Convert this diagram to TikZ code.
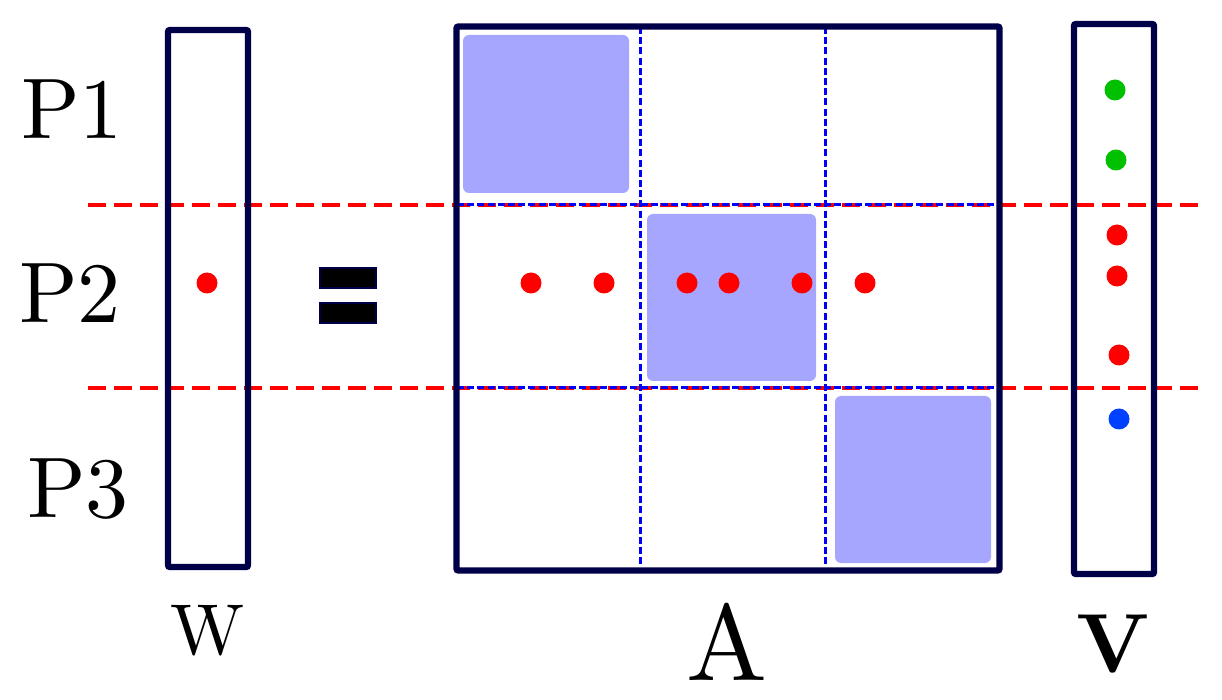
\documentclass[tikz,border=0pt]{standalone}
\usepackage{fontspec}
\setmainfont{lmroman10-regular.otf}[BoldFont=lmroman10-bold.otf]
\usepackage{tikz}
\usetikzlibrary{positioning}
\definecolor{navyline}{RGB}{0,0,72}
\definecolor{blockfill}{RGB}{166,166,255}
\definecolor{dotgreen}{RGB}{0,192,0}
\definecolor{dotblue}{RGB}{0,64,255}
\tikzset{
  vecbox/.style={draw=navyline, line width=3.2pt, inner sep=0pt, rounded corners=1pt},
  blockbox/.style={fill=blockfill, inner sep=0pt, rounded corners=3pt},
  dot/.style={circle, inner sep=0pt, minimum size=10.5pt},
  partline/.style={red, line width=2pt, dash pattern=on 9pt off 4pt},
  gridline/.style={blue, line width=1.5pt, dash pattern=on 3.5pt off 1.6pt},
  eqbar/.style={fill=black, draw=navyline, line width=1pt}
}
\begin{document}
\begin{tikzpicture}[x=0.5pt, y=-0.5pt]
    \useasboundingbox (0,0) rectangle (1222,700);
    % partitions
    \draw[partline] (88,205) -- (1202,205);
    \draw[partline] (88,388) -- (1202,388);
    % diagonal blocks of A
    \node[blockbox, minimum width=83pt, minimum height=79pt] (B1) at (546,114) {};
    \node[blockbox, minimum width=84.5pt, minimum height=83.5pt] (B2) at (731.5,297.5) {};
    \node[blockbox, minimum width=78pt, minimum height=83.5pt] (B3) at (913,479.5) {};
    % grid of A
    \draw[gridline] (640,27) -- (640,570);
    \draw[gridline] (825,27) -- (825,570);
    \draw[gridline] (457,205) -- (999,205);
    \draw[gridline] (457,388) -- (999,388);
    % vectors and matrix
    \node[vecbox, minimum width=40pt, minimum height=268.5pt] (W) at (208,298.5) {};
    \node[vecbox, minimum width=271.5pt, minimum height=272pt] (A) at (728,298.5) {};
    \node[vecbox, minimum width=40pt, minimum height=275pt] (V) at (1114,299) {};
    % equal sign
    \draw[eqbar] (320,268) rectangle (376,288);
    \draw[eqbar] (320,303) rectangle (376,323);
    % entries
    \node[dot, fill=red] (w2) at (207,283) {};
    \foreach \x [count=\i] in {531,604,687,729,802,865}
      \node[dot, fill=red] (a\i) at (\x,283) {};
    \foreach \x/\y/\c [count=\i] in {1115/90/dotgreen,1116/160/dotgreen,1117/235/red,1117/276/red,1119/355/red,1119/419/dotblue}
      \node[dot, fill=\c] (v\i) at (\x,\y) {};
    % labels
    \node[anchor=base, font=\fontsize{43}{50}\selectfont] (P1) at (72,139) {P1};
    \node[anchor=base, font=\fontsize{43}{50}\selectfont] (P2) at (70,323) {P2};
    \node[anchor=base, font=\fontsize{43}{50}\selectfont] (P3) at (78,517) {P3};
    \node[anchor=base, font=\fontsize{36}{42}\selectfont] (Wl) at (208,654) {W};
    \node[anchor=base, font=\fontsize{54}{60}\selectfont] (Al) at (727,680) {A};
    \node[anchor=base, font=\fontsize{42}{50}\selectfont\bfseries] (Vl) at (1113,672) {V};
\end{tikzpicture}
\end{document}
